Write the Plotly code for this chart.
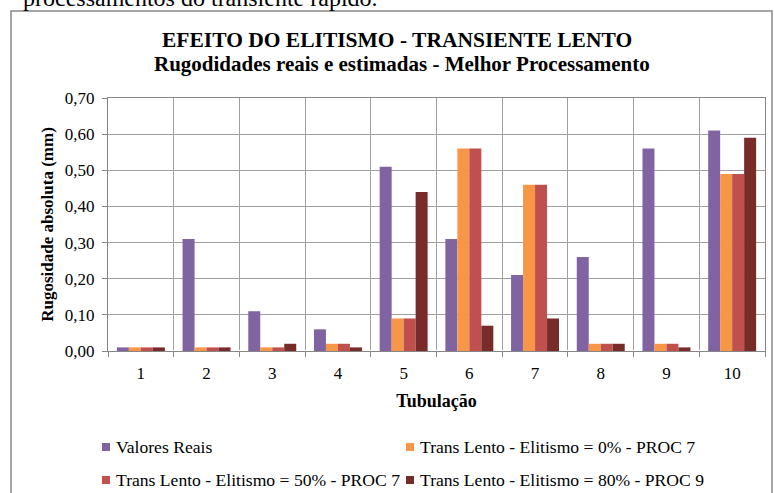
import plotly.graph_objects as go

# Data: roughness per pipe (mm)
tubulacoes = ["1", "2", "3", "4", "5", "6", "7", "8", "9", "10"]
valores_reais = [0.01, 0.31, 0.11, 0.06, 0.51, 0.31, 0.21, 0.26, 0.56, 0.61]
elit_0_proc7 = [0.01, 0.01, 0.01, 0.02, 0.09, 0.56, 0.46, 0.02, 0.02, 0.49]
elit_50_proc7 = [0.01, 0.01, 0.01, 0.02, 0.09, 0.56, 0.46, 0.02, 0.02, 0.49]
elit_80_proc9 = [0.01, 0.01, 0.02, 0.01, 0.44, 0.07, 0.09, 0.02, 0.01, 0.59]

series_names = [
    "Valores Reais",
    "Trans Lento - Elitismo = 0% - PROC 7",
    "Trans Lento - Elitismo = 50% - PROC 7",
    "Trans Lento - Elitismo = 80% - PROC 9",
]
series_values = [valores_reais, elit_0_proc7, elit_50_proc7, elit_80_proc9]
series_colors = ["#8064A2", "#F79646", "#C0504D", "#772C2A"]

W, H = 774, 493
ML, MR, MT, MB = 108, 9, 98, 142
PW, PH = W - ML - MR, H - MT - MB


def px_x(px):
    return (px - ML) / PW


def px_y(py):
    return (H - MB - py) / PH


SERIF = "Liberation Serif"

fig = go.Figure()
for name, vals, color in zip(series_names, series_values, series_colors):
    fig.add_trace(go.Bar(
        x=tubulacoes, y=vals, name=name, showlegend=False,
        marker=dict(color=color, line=dict(width=0)),
    ))

fig.update_layout(
    width=W, height=H,
    margin=dict(l=ML, r=MR, t=MT, b=MB, autoexpand=False),
    paper_bgcolor="white", plot_bgcolor="white",
    barmode="group", bargap=0.27, bargroupgap=0,
    separators=",.",
    font=dict(family=SERIF, color="black"),
    xaxis=dict(
        type="category", tickson="boundaries", ticks="outside", ticklen=5,
        tickcolor="#868686", showgrid=True, gridcolor="#a0a0a0", gridwidth=1,
        showline=True, linecolor="#868686", linewidth=1, mirror=True,
        tickfont=dict(family=SERIF, size=17, color="black"),
        ticklabelstandoff=7,
        title=dict(text="<b>Tubulação</b>", font=dict(family=SERIF, size=18, color="black"),
                   standoff=11),
    ),
    yaxis=dict(
        range=[0, 0.70], dtick=0.1, tickformat=".2f",
        ticks="outside", ticklen=5, tickcolor="#868686",
        showgrid=True, gridcolor="#a0a0a0", gridwidth=1,
        showline=True, linecolor="#868686", linewidth=1, mirror=True,
        tickfont=dict(family=SERIF, size=17, color="black"),
        ticklabelstandoff=4,
        title=dict(text="<b>Rugosidade absoluta (mm)</b>",
                   font=dict(family=SERIF, size=17, color="black"), standoff=6),
    ),
)

# Legend below the chart: two columns, two rows, small square swatches
legend_cols = [106, 410, 106, 410]
legend_rows = [447, 447, 480, 480]
SW = 4  # half swatch size, px
for name, color, cx, ry in zip(series_names, series_colors, legend_cols, legend_rows):
    fig.add_shape(type="rect", xref="paper", yref="paper",
                  x0=px_x(cx - SW), x1=px_x(cx + SW),
                  y0=px_y(ry + SW), y1=px_y(ry - SW),
                  line=dict(width=0), fillcolor=color)
    fig.add_annotation(text=name, xref="paper", yref="paper",
                       x=px_x(cx + 8), y=px_y(ry), xanchor="left", yanchor="middle",
                       showarrow=False,
                       font=dict(family=SERIF, size=17.6, color="black"))

# Chart frame
fig.add_shape(type="rect", xref="paper", yref="paper",
              x0=px_x(11), x1=px_x(772), y0=px_y(510), y1=px_y(11),
              line=dict(color="#888888", width=1.5), fillcolor="rgba(0,0,0,0)",
              layer="below")

# Titles
fig.add_annotation(text="<b>EFEITO DO ELITISMO - TRANSIENTE LENTO</b>",
                   xref="paper", yref="paper", x=px_x(397), y=px_y(40),
                   xanchor="center", yanchor="middle", showarrow=False,
                   font=dict(family=SERIF, size=21.5, color="black"))
fig.add_annotation(text="<b>Rugodidades reais e estimadas - Melhor Processamento</b>",
                   xref="paper", yref="paper", x=px_x(402), y=px_y(64),
                   xanchor="center", yanchor="middle", showarrow=False,
                   font=dict(family=SERIF, size=21, color="black"))

# Running text of the page above the chart
fig.add_annotation(text="processamentos do transiente rápido.",
                   xref="paper", yref="paper", x=px_x(21), y=px_y(-2),
                   xanchor="left", yanchor="middle", showarrow=False,
                   font=dict(family=SERIF, size=24, color="black"))

fig.write_html("out.html")
